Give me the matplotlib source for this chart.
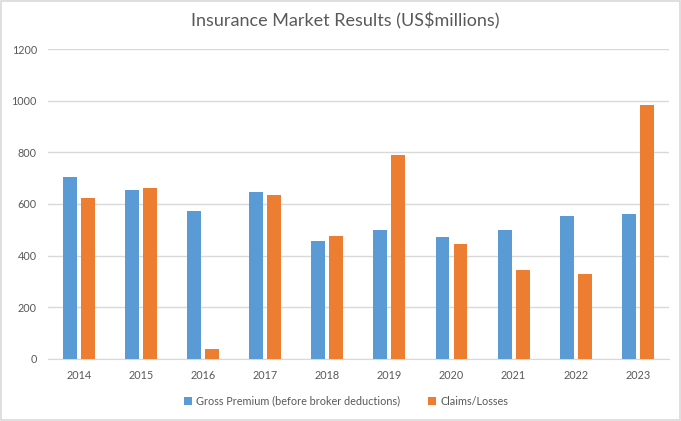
import matplotlib
matplotlib.use("Agg")
import matplotlib.pyplot as plt
import numpy as np
from matplotlib.patches import Rectangle

years = ["2014", "2015", "2016", "2017", "2018", "2019", "2020", "2021", "2022", "2023"]
gross_premium = [705, 656, 571, 648, 456, 501, 474, 501, 552, 560]
claims_losses = [625, 660, 40, 634, 475, 789, 447, 346, 330, 983]
series_names = ["Gross Premium (before broker deductions)", "Claims/Losses"]
yticks = [0, 200, 400, 600, 800, 1000, 1200]

plt.rcParams['font.family'] = ['Lato', 'DejaVu Sans']
blue = "#5B9BD5"
orange = "#ED7D31"
txt = "#595959"

fig = plt.figure(figsize=(6.81, 4.21), dpi=100)
ax = fig.add_axes([0.0705, 0.1473, 0.9115, 0.7363])

x = np.arange(len(years))
w = 0.225
off = 0.145
ax.bar(x - off, gross_premium, w, color=blue, label=series_names[0], zorder=3)
ax.bar(x + off, claims_losses, w, color=orange, label=series_names[1], zorder=3)

ax.set_xlim(-0.5, len(years) - 0.5)
ax.set_ylim(0, 1200)
ax.set_yticks(yticks)
ax.set_yticklabels([str(v) for v in yticks])
ax.set_xticks(x)
ax.set_xticklabels(years)
ax.grid(axis='y', color="#D9D9D9", linewidth=1, zorder=0)
for s in ["top", "right", "left"]:
    ax.spines[s].set_visible(False)
ax.spines["bottom"].set_color("#D9D9D9")
ax.tick_params(axis='both', length=0, labelsize=7.8, colors=txt)
ax.tick_params(axis='x', pad=8)
ax.tick_params(axis='y', pad=8)

fig.text(0.507, 0.951, "Insurance Market Results (US$millions)", ha='center', va='center',
         fontsize=13, color=txt, fontweight='normal')

leg = fig.legend(loc='center', bbox_to_anchor=(0.508, 0.047), ncol=2, frameon=False,
                 fontsize=7.8, handlelength=0.7, handleheight=0.7, columnspacing=2.6,
                 handletextpad=0.4)
for t in leg.get_texts():
    t.set_color(txt)

fig.patches.append(Rectangle((0.002, 0.002), 0.996, 0.996, transform=fig.transFigure,
                             fill=False, edgecolor="#D9D9D9", linewidth=1.2))

fig.savefig("out.png", dpi=100, facecolor="white")
